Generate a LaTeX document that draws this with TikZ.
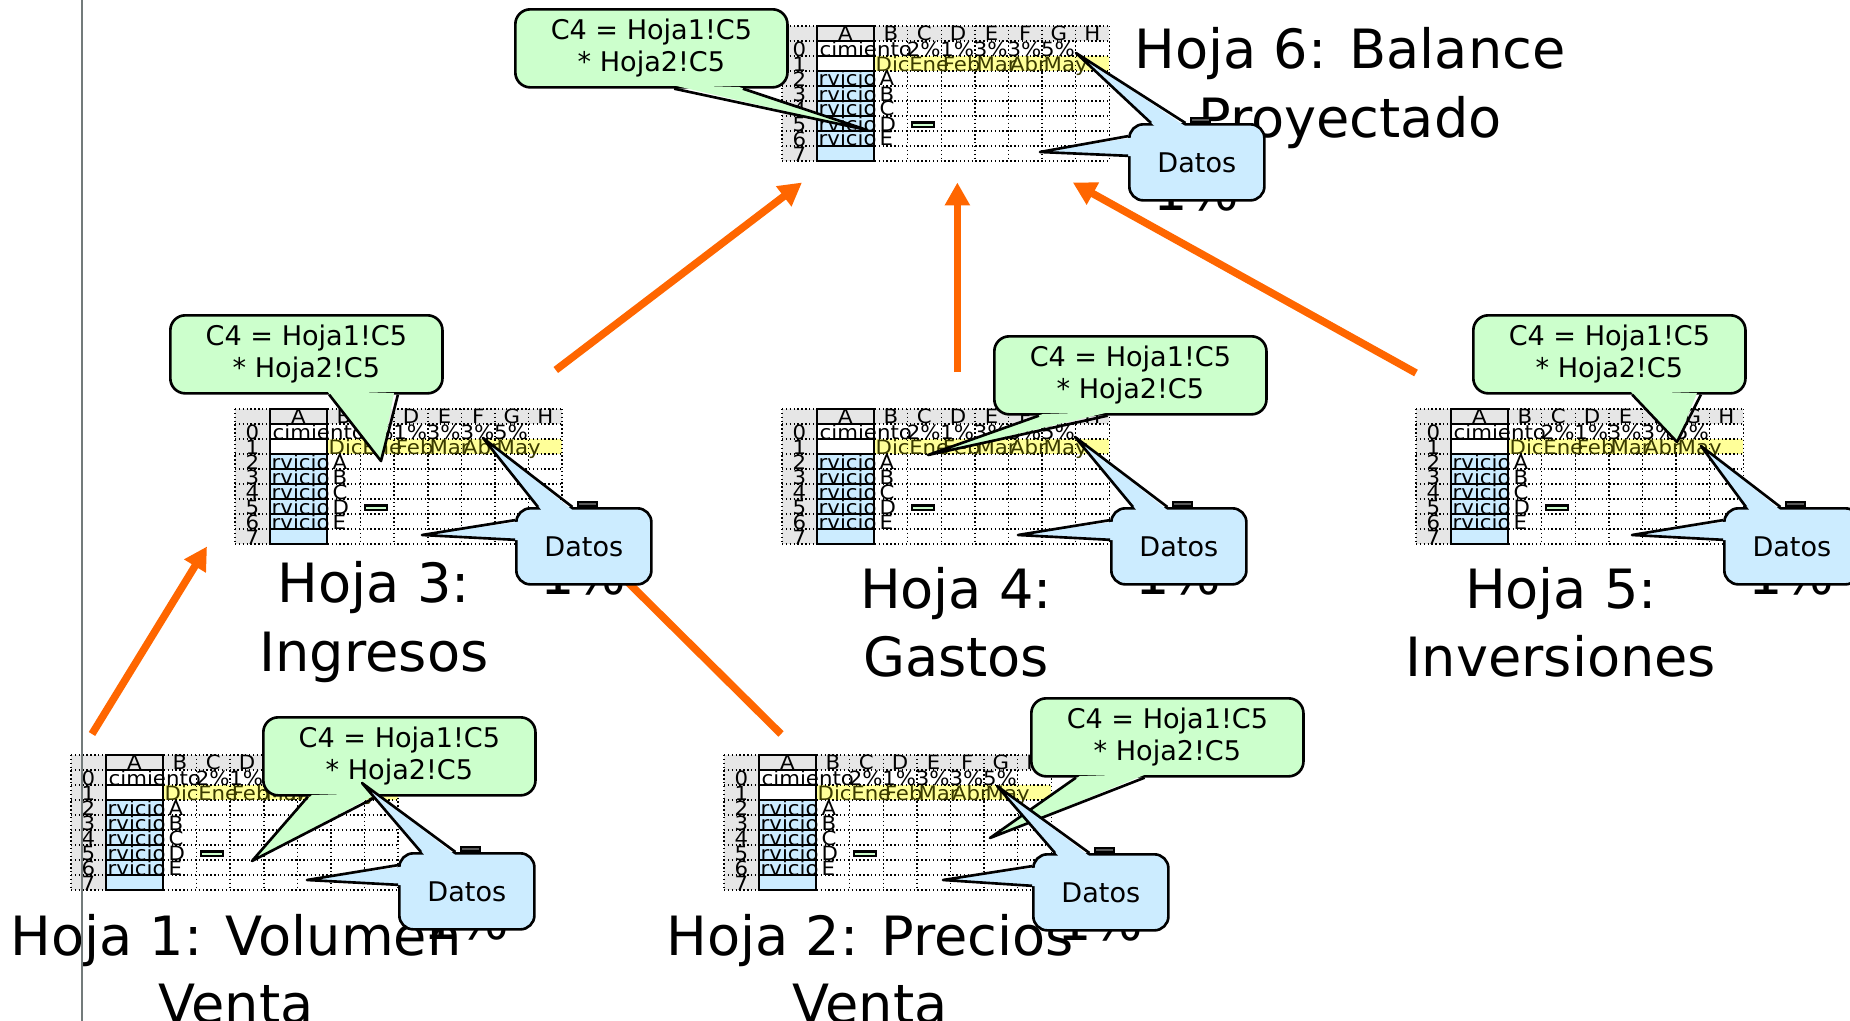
\documentclass[tikz,border=0pt]{standalone}
\usepackage{fontspec}
\setmainfont{DejaVu Sans}
\newfontfamily\mini[FakeStretch=1.08]{DejaVu Sans}
\usetikzlibrary{arrows.meta,calc}

\definecolor{verdeclaro}{HTML}{CCFFCC}
\definecolor{celeste}{HTML}{CCECFF}
\definecolor{amarillo}{HTML}{FFFF99}
\definecolor{grisclaro}{HTML}{E6E6E6}
\definecolor{naranja}{HTML}{FF6600}
\definecolor{oliva}{HTML}{3A3A00}
\definecolor{gris}{HTML}{737B7B}

% pico de un globo: relleno, nodo, ancla, ancla, fraccion, fraccion, punta
\newcommand{\pico}[7]{%
  \coordinate (pa) at ($(#2.#3)!#5!(#2.#4)$);
  \coordinate (pb) at ($(#2.#3)!#6!(#2.#4)$);
  \fill[#1] ($(pa)!1.2pt!(#2.center)$) -- (#7) -- ($(pb)!1.2pt!(#2.center)$) -- cycle;
  \draw[borde] (pa) -- (#7) -- (pb);}

\begin{document}
\begin{tikzpicture}[x=0.01cm,y=-0.01cm,
   hoja/.style={font=\fontsize{15.4}{19.4}\selectfont,align=center,inner sep=0pt},
   formula/.style={draw,line width=0.75pt,fill=verdeclaro,rounded corners=0.15cm,minimum width=2.72cm,minimum height=0.78cm,anchor=north west,align=center,inner sep=0pt,font=\fontsize{7.7}{9}\selectfont},
   datos/.style={draw,line width=0.75pt,fill=celeste,rounded corners=0.14cm,minimum width=1.35cm,minimum height=0.76cm,anchor=north west,inner sep=0pt,font=\fontsize{7.7}{9}\selectfont},
   borde/.style={line width=0.75pt,line join=round},
   flecha/.style={naranja,line width=0.075cm,-{Triangle[width=0.24cm,length=0.23cm]}},
   mini/.style={font=\mini\fontsize{5.6}{5.6}\selectfont,inner sep=0pt},
   punteado/.style={line width=0.4pt,dash pattern=on 0.4pt off 0.7pt},
   solido/.style={line width=0.7pt},
   pct/.style={font=\fontsize{15.4}{18}\selectfont,inner sep=0pt,anchor=base},
   marca/.style={draw,fill=black!65,line width=0.4pt},
   hojita/.pic={
     \node[inner sep=0pt,minimum width=3.272cm,minimum height=1.35cm,anchor=north west] (-marco) at (0,0) {};
     \fill[grisclaro] (0,0) rectangle (327.2,15);
     \fill[grisclaro] (0,0) rectangle (35,135);
     \fill[amarillo] (92,30) rectangle (327.2,45);
     \fill[celeste] (35,45) rectangle (92,135);
     \foreach \y in {0,15,...,135}
       \draw[punteado] (0,\y) -- (327.2,\y);
     \foreach \x in {0,35,92,125.6,159.2,192.8,226.4,260,293.6,327.2}
       \draw[punteado] (\x,0) -- (\x,135);
     \draw[solido] (35,0) rectangle (92,135);
     \foreach \y in {15,30,...,120}
       \draw[solido] (35,\y) -- (92,\y);
     \draw[solido,fill=verdeclaro] (130,96.5) rectangle (152,101);
     \node[mini,anchor=base] (-colA) at (63.5,14.5) {A};
     \foreach \l [count=\k from 0] in {B,C,D,E,F,G,H}
       \node[mini,anchor=base] (-col\l) at ({108.8+33.6*\k},14.5) {\l};
     \foreach \r in {0,...,7}
       \node[mini,anchor=base] (-fila\r) at (17.5,{30.5+15*\r}) {\r};
     \node[mini,anchor=base west] (-titulo) at (37,30) {cimiento};
     \foreach \v [count=\k] in {2,1,3,3,5}
       \node[mini,anchor=base east] (-pct\k) at ({125.6+33.6*\k},30) {\v\%};
     \foreach \m [count=\k from 0] in {Dic,Ene,Feb,Mar,Abr,May}
       \node[mini,oliva,anchor=base west] (-mes\k) at ({93+33.6*\k},45) {\m};
     \foreach \l [count=\k from 2] in {A,B,C,D,E} {
       \node[mini,anchor=base west] (-serv\k) at (36,{30+15*\k}) {rvicio};
       \node[mini,anchor=base west] (-letra\k) at (97,{30+15*\k}) {\l};
     }
   }]
\useasboundingbox (0,0) rectangle (1850,1021);

% hojas
\pic (h6) at (782,26) {hojita};
\pic (h3) at (235,409) {hojita};
\pic (h4) at (782,409) {hojita};
\pic (h5) at (1416,409) {hojita};
\pic (h1) at (71,755) {hojita};
\pic (h2) at (724,755) {hojita};

% titulos
\node[hoja] (t6) at (1350,88) {Hoja 6: Balance\\Proyectado};
\node[hoja] (t3) at (374,622) {Hoja 3:\\Ingresos};
\node[hoja] (t4) at (956,622) {Hoja 4:\\Gastos};
\node[hoja] (t5) at (1561,622) {Hoja 5:\\Inversiones};
\node[hoja] (t1) at (236,969) {Hoja 1: Volumen\\Venta};
\node[hoja] (t2) at (870,969) {Hoja 2: Precios\\Venta};

% flechas
\draw[flecha] ([shift={(21,-21)}]h1-marco.north west) -- ([shift={(-28,1)}]h3-marco.south west);
\draw[flecha] ([shift={(57,-21)}]h2-marco.north west) -- ([shift={(23,-4)}]h3-marco.south east);
\draw[flecha] ([shift={(-8,-39)}]h3-marco.north east) -- ([shift={(20,20)}]h6-marco.south west);
\draw[flecha] ([shift={(11,-37)}]h4-marco.north) -- ([shift={(11,20)}]h6-marco.south);
\draw[flecha] ([shift={(0,-36)}]h5-marco.north west) -- ([shift={(-38,20)}]h6-marco.south east);

% porcentajes
\node[pct] (p6) at (1196,210) {1\%};
\node[pct] (p3) at (583,594) {1\%};
\node[pct] (p4) at (1178,594) {1\%};
\node[pct] (p5) at (1791,594) {1\%};
\node[pct] (p1) at (466,939) {1\%};
\node[pct] (p2) at (1100,940) {1\%};

% globos hoja 6
\node[formula] (f6) at (514,8) {C4 = Hoja1!C5\\* Hoja2!C5};
\pico{verdeclaro}{f6}{south west}{south east}{0.583}{0.833}{867,130}
\node[datos] (d6) at (1128,123) {Datos};
\pico{celeste}{d6}{north west}{north east}{0.167}{0.417}{1076,53}
\pico{celeste}{d6}{north west}{south west}{0.167}{0.417}{1040,152}
\draw[marca] ([shift={(63,-5)}]d6.north west) rectangle ([shift={(82,-1)}]d6.north west);

% globos hoja 3
\node[formula] (f3) at (169,314) {C4 = Hoja1!C5\\* Hoja2!C5};
\pico{verdeclaro}{f3}{south west}{south east}{0.583}{0.833}{381,461}
\node[datos] (d3) at (515,507) {Datos};
\pico{celeste}{d3}{north west}{north east}{0.167}{0.417}{483,438}
\pico{celeste}{d3}{north west}{south west}{0.167}{0.417}{422,535}
\draw[marca] ([shift={(63,-5)}]d3.north west) rectangle ([shift={(82,-1)}]d3.north west);

% globos hoja 4
\node[formula] (f4) at (993,335) {C4 = Hoja1!C5\\* Hoja2!C5};
\pico{verdeclaro}{f4}{south west}{south east}{0.167}{0.417}{928,455}
\node[datos] (d4) at (1110,507) {Datos};
\pico{celeste}{d4}{north west}{north east}{0.167}{0.417}{1075,437}
\pico{celeste}{d4}{north west}{south west}{0.167}{0.417}{1018,535}
\draw[marca] ([shift={(63,-5)}]d4.north west) rectangle ([shift={(82,-1)}]d4.north west);

% globos hoja 5
\node[formula] (f5) at (1472,314) {C4 = Hoja1!C5\\* Hoja2!C5};
\pico{verdeclaro}{f5}{south west}{south east}{0.583}{0.833}{1677,442}
\node[datos] (d5) at (1723,507) {Datos};
\pico{celeste}{d5}{north west}{north east}{0.167}{0.417}{1701,446}
\pico{celeste}{d5}{north west}{south west}{0.167}{0.417}{1632,535}
\draw[marca] ([shift={(63,-5)}]d5.north west) rectangle ([shift={(82,-1)}]d5.north west);

% globos hoja 1
\node[formula] (f1) at (262,716) {C4 = Hoja1!C5\\* Hoja2!C5};
\pico{verdeclaro}{f1}{south west}{south east}{0.167}{0.417}{252,861}
\node[datos] (d1) at (398,852) {Datos};
\pico{celeste}{d1}{north west}{north east}{0.167}{0.417}{362,783}
\pico{celeste}{d1}{north west}{south west}{0.167}{0.417}{307,880}
\draw[marca] ([shift={(63,-5)}]d1.north west) rectangle ([shift={(82,-1)}]d1.north west);

% globos hoja 2
\node[formula] (f2) at (1030,697) {C4 = Hoja1!C5\\* Hoja2!C5};
\pico{verdeclaro}{f2}{south west}{south east}{0.167}{0.417}{990,838}
\node[datos] (d2) at (1032,853) {Datos};
\pico{celeste}{d2}{north west}{north east}{0.167}{0.417}{997,786}
\pico{celeste}{d2}{north west}{south west}{0.167}{0.417}{943,880}
\draw[marca] ([shift={(63,-5)}]d2.north west) rectangle ([shift={(82,-1)}]d2.north west);

% linea de margen
\draw[gris,line width=0.8pt] (82,0) -- (82,1021);
\end{tikzpicture}
\end{document}
